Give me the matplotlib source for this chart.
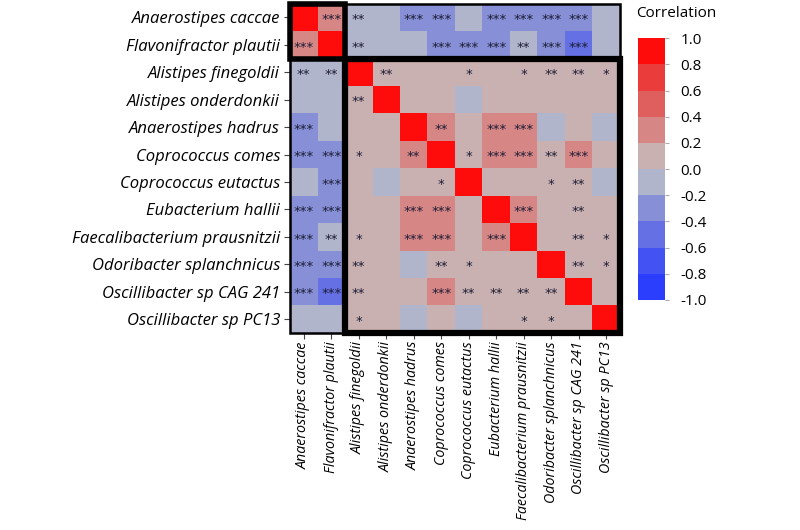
import numpy as np
import matplotlib
matplotlib.use("Agg")
import matplotlib.pyplot as plt
from matplotlib.colors import ListedColormap, BoundaryNorm
from matplotlib.patches import Rectangle

plt.rcParams['font.family'] = 'Open Sans'

species = ["Anaerostipes caccae", "Flavonifractor plautii", "Alistipes finegoldii",
           "Alistipes onderdonkii", "Anaerostipes hadrus", "Coprococcus comes",
           "Coprococcus eutactus", "Eubacterium hallii", "Faecalibacterium prausnitzii",
           "Odoribacter splanchnicus", "Oscillibacter sp CAG 241", "Oscillibacter sp PC13"]

corr = [
    [1.0, 0.3, -0.1, -0.1, -0.3, -0.3, -0.1, -0.3, -0.3, -0.3, -0.3, -0.1],
    [0.3, 1.0, -0.1, -0.1, -0.1, -0.3, -0.3, -0.3, -0.1, -0.3, -0.5, -0.1],
    [-0.1, -0.1, 1.0, 0.1, 0.1, 0.1, 0.1, 0.1, 0.1, 0.1, 0.1, 0.1],
    [-0.1, -0.1, 0.1, 1.0, 0.1, 0.1, -0.1, 0.1, 0.1, 0.1, 0.1, 0.1],
    [-0.3, -0.1, 0.1, 0.1, 1.0, 0.3, 0.1, 0.3, 0.3, -0.1, 0.1, -0.1],
    [-0.3, -0.3, 0.1, 0.1, 0.3, 1.0, 0.1, 0.3, 0.3, 0.1, 0.3, 0.1],
    [-0.1, -0.3, 0.1, -0.1, 0.1, 0.1, 1.0, 0.1, 0.1, 0.1, 0.1, -0.1],
    [-0.3, -0.3, 0.1, 0.1, 0.3, 0.3, 0.1, 1.0, 0.3, 0.1, 0.1, 0.1],
    [-0.3, -0.1, 0.1, 0.1, 0.3, 0.3, 0.1, 0.3, 1.0, 0.1, 0.1, 0.1],
    [-0.3, -0.3, 0.1, 0.1, -0.1, 0.1, 0.1, 0.1, 0.1, 1.0, 0.1, 0.1],
    [-0.3, -0.5, 0.1, 0.1, 0.1, 0.3, 0.1, 0.1, 0.1, 0.1, 1.0, 0.1],
    [-0.1, -0.1, 0.1, 0.1, -0.1, 0.1, -0.1, 0.1, 0.1, 0.1, 0.1, 1.0],
]

stars = [
    ['', '***', '**', '', '***', '***', '', '***', '***', '***', '***', ''],
    ['***', '', '**', '', '', '***', '***', '***', '**', '***', '***', ''],
    ['**', '**', '', '**', '', '', '*', '', '*', '**', '**', '*'],
    ['', '', '**', '', '', '', '', '', '', '', '', ''],
    ['***', '', '', '', '', '**', '', '***', '***', '', '', ''],
    ['***', '***', '*', '', '**', '', '*', '***', '***', '**', '***', ''],
    ['', '***', '', '', '', '*', '', '', '', '*', '**', ''],
    ['***', '***', '', '', '***', '***', '', '', '***', '', '**', ''],
    ['***', '**', '*', '', '***', '***', '', '***', '', '', '**', '*'],
    ['***', '***', '**', '', '', '**', '*', '', '', '', '**', '*'],
    ['***', '***', '**', '', '', '***', '**', '**', '**', '**', '', ''],
    ['', '', '*', '', '', '', '', '', '*', '*', '', ''],
]

bounds = [-1.0, -0.8, -0.6, -0.4, -0.2, 0.0, 0.2, 0.4, 0.6, 0.8, 1.0]
colors = ['#2b3dfd', '#4352f2', '#6470e4', '#8790d6', '#b1b5cc',
          '#c9b1b1', '#d78686', '#df5e5e', '#eb3c3c', '#fe0b0b']
cmap = ListedColormap(colors)
norm = BoundaryNorm(bounds, cmap.N)

fig = plt.figure(figsize=(8, 5.3), dpi=100)
ax = fig.add_axes([0.3625, 0.372, 0.4125, 0.621])
n = len(species)
data = np.array(corr)
mesh = ax.pcolormesh(np.arange(n + 1), np.arange(n + 1), data, cmap=cmap, norm=norm)
ax.set_xlim(0, n)
ax.set_ylim(n, 0)

for i in range(n):
    for j in range(n):
        if stars[i][j]:
            ax.text(j + 0.5, i + 0.58, stars[i][j], ha='center', va='center',
                    fontsize=9.5, color='#1c1c34', family='DejaVu Sans')

ax.set_xticks(np.arange(n) + 0.5)
ax.set_yticks(np.arange(n) + 0.5)
ax.set_xticklabels(species, rotation=90, style='italic', fontsize=10.3)
ax.set_yticklabels(species, style='italic', fontsize=12)
ax.tick_params(length=4, width=0.8, color='#444444', pad=3)
ax.tick_params(axis='x', pad=2)
for s in ax.spines.values():
    s.set_visible(False)

# block outlines
ax.add_patch(Rectangle((2, 0), 10, 2, fill=False, lw=1.8, ec='black', zorder=3, clip_on=False))
ax.add_patch(Rectangle((0, 2), 2, 10, fill=False, lw=1.8, ec='black', zorder=3, clip_on=False))
ax.add_patch(Rectangle((0, 0), 2, 2, fill=False, lw=4, ec='black', zorder=4, clip_on=False))
ax.add_patch(Rectangle((2, 2), 10, 10, fill=False, lw=4.5, ec='black', zorder=4, clip_on=False))

cax = fig.add_axes([0.7975, 0.434, 0.034, 0.494])
cb = fig.colorbar(mesh, cax=cax, ticks=bounds)
cb.outline.set_visible(False)
cb.ax.set_yticklabels([f"{b:.1f}" for b in bounds])
cb.ax.tick_params(length=3, width=0.8, color='#aaaaaa', labelsize=11, pad=8)
fig.text(0.845, 0.975, "Correlation", ha='center', va='center', fontsize=11)

fig.savefig("out.png", dpi=100)
